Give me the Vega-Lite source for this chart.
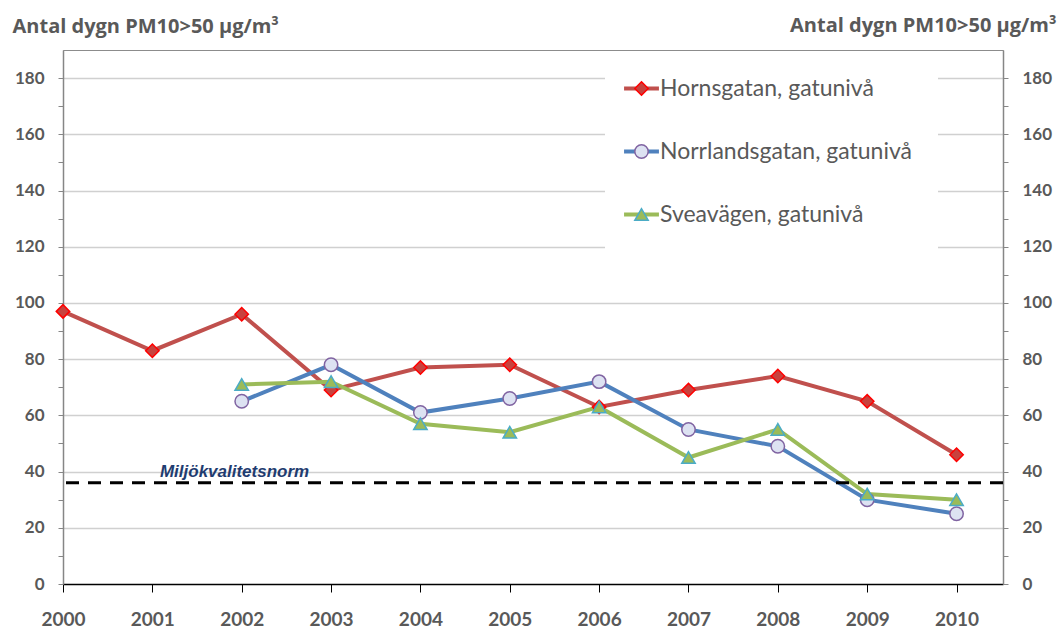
{
  "$schema": "https://vega.github.io/schema/vega-lite/v6.json",
  "width": 940,
  "height": 534,
  "autosize": {"type": "none"},
  "padding": {"left": 63, "top": 50, "right": 55, "bottom": 46},
  "config": {
    "view": {"stroke": "#8c8c8c", "strokeWidth": 1},
    "font": "Lato"
  },
  "datasets": {
    "series": [
      {"year": 2000, "value": 97, "series": "Hornsgatan, gatunivå"},
      {"year": 2001, "value": 83, "series": "Hornsgatan, gatunivå"},
      {"year": 2002, "value": 96, "series": "Hornsgatan, gatunivå"},
      {"year": 2003, "value": 69, "series": "Hornsgatan, gatunivå"},
      {"year": 2004, "value": 77, "series": "Hornsgatan, gatunivå"},
      {"year": 2005, "value": 78, "series": "Hornsgatan, gatunivå"},
      {"year": 2006, "value": 63, "series": "Hornsgatan, gatunivå"},
      {"year": 2007, "value": 69, "series": "Hornsgatan, gatunivå"},
      {"year": 2008, "value": 74, "series": "Hornsgatan, gatunivå"},
      {"year": 2009, "value": 65, "series": "Hornsgatan, gatunivå"},
      {"year": 2010, "value": 46, "series": "Hornsgatan, gatunivå"},
      {"year": 2002, "value": 65, "series": "Norrlandsgatan, gatunivå"},
      {"year": 2003, "value": 78, "series": "Norrlandsgatan, gatunivå"},
      {"year": 2004, "value": 61, "series": "Norrlandsgatan, gatunivå"},
      {"year": 2005, "value": 66, "series": "Norrlandsgatan, gatunivå"},
      {"year": 2006, "value": 72, "series": "Norrlandsgatan, gatunivå"},
      {"year": 2007, "value": 55, "series": "Norrlandsgatan, gatunivå"},
      {"year": 2008, "value": 49, "series": "Norrlandsgatan, gatunivå"},
      {"year": 2009, "value": 30, "series": "Norrlandsgatan, gatunivå"},
      {"year": 2010, "value": 25, "series": "Norrlandsgatan, gatunivå"},
      {"year": 2002, "value": 71, "series": "Sveavägen, gatunivå"},
      {"year": 2003, "value": 72, "series": "Sveavägen, gatunivå"},
      {"year": 2004, "value": 57, "series": "Sveavägen, gatunivå"},
      {"year": 2005, "value": 54, "series": "Sveavägen, gatunivå"},
      {"year": 2006, "value": 63, "series": "Sveavägen, gatunivå"},
      {"year": 2007, "value": 45, "series": "Sveavägen, gatunivå"},
      {"year": 2008, "value": 55, "series": "Sveavägen, gatunivå"},
      {"year": 2009, "value": 32, "series": "Sveavägen, gatunivå"},
      {"year": 2010, "value": 30, "series": "Sveavägen, gatunivå"}
    ],
    "norm": [{"value": 36}],
    "normlabel": [{"year": 2001.92, "value": 40, "text": "Miljökvalitetsnorm"}]
  },
  "resolve": {"axis": {"y": "independent"}},
  "layer": [
    {
      "data": {"name": "series"},
      "mark": {"type": "line", "strokeWidth": 4},
      "encoding": {
        "x": {
          "field": "year", "type": "quantitative",
          "scale": {"domain": [2000, 2010.52], "nice": false, "zero": false},
          "axis": {
            "values": [2000, 2001, 2002, 2003, 2004, 2005, 2006, 2007, 2008, 2009, 2010],
            "format": "d", "title": null, "grid": false,
            "domainColor": "#000000", "domainWidth": 1.5,
            "tickColor": "#000000", "tickSize": 8, "tickWidth": 1,
            "labelFont": "Lato", "labelFontWeight": "bold", "labelFontSize": 19,
            "labelColor": "#595959", "labelPadding": 18, "labelFlush": false
          }
        },
        "y": {
          "field": "value", "type": "quantitative",
          "scale": {"domain": [0, 190], "nice": false},
          "axis": {
            "orient": "left",
            "values": [0, 10, 20, 30, 40, 50, 60, 70, 80, 90, 100, 110, 120, 130, 140, 150, 160, 170, 180],
            "labelExpr": "datum.value % 20 === 0 ? datum.label : ''",
            "grid": true,
            "gridColor": {"condition": {"test": "datum.value % 20 === 0 && datum.value > 0", "value": "#d0d0d0"}, "value": "transparent"},
            "gridWidth": 1.5,
            "domainColor": "#868686", "domainWidth": 1.5,
            "tickColor": "#868686", "tickSize": 5,
            "labelFont": "Lato", "labelFontWeight": "bold", "labelFontSize": 17,
            "labelColor": "#595959", "labelPadding": 14,
            "title": "Antal dygn PM10>50 µg/m³",
            "titleAngle": 0, "titleAlign": "left", "titleBaseline": "alphabetic",
            "titleX": -51, "titleY": -18,
            "titleFont": "Open Sans", "titleFontWeight": "bold", "titleFontSize": 20, "titleColor": "#595959"
          }
        },
        "color": {
          "field": "series", "type": "nominal",
          "scale": {"range": ["#C0504D", "#4F81BD", "#9BBB59"]},
          "legend": {
            "orient": "none", "legendX": 542, "legendY": 2, "title": null,
            "padding": 25, "fillColor": "#ffffff", "zindex": 1,
            "symbolType": "M-2.6,0L2.6,0", "symbolSize": 180, "symbolStrokeWidth": 4,
            "labelFont": "Lato", "labelFontSize": 23, "labelColor": "#595959", "labelLimit": 500,
            "labelOffset": 7, "rowPadding": 39
          }
        }
      }
    },
    {
      "data": {"name": "series"},
      "mark": {"type": "point", "filled": true, "size": 180, "strokeWidth": 1.5, "opacity": 1},
      "encoding": {
        "x": {"field": "year", "type": "quantitative"},
        "y": {"field": "value", "type": "quantitative", "axis": null},
        "shape": {
          "field": "series", "type": "nominal",
          "scale": {"domain": ["Hornsgatan, gatunivå", "Norrlandsgatan, gatunivå", "Sveavägen, gatunivå"], "range": ["diamond", "circle", "triangle-up"]},
          "legend": {
            "orient": "none", "legendX": 542, "legendY": 2, "title": null,
            "padding": 25, "zindex": 2, "symbolSize": 180, "symbolStrokeWidth": 1.5,
            "labelFont": "Lato", "labelFontSize": 23, "labelOpacity": 0, "labelLimit": 500,
            "labelOffset": 7, "rowPadding": 39
          }
        },
        "fill": {
          "field": "series", "type": "nominal",
          "scale": {"domain": ["Hornsgatan, gatunivå", "Norrlandsgatan, gatunivå", "Sveavägen, gatunivå"], "range": ["#C8423E", "#DDE2F2", "#9BBB59"]},
          "legend": {
            "orient": "none", "legendX": 542, "legendY": 2, "title": null,
            "padding": 25, "zindex": 2, "symbolSize": 180, "symbolStrokeWidth": 1.5,
            "labelFont": "Lato", "labelFontSize": 23, "labelOpacity": 0, "labelLimit": 500,
            "labelOffset": 7, "rowPadding": 39
          }
        },
        "stroke": {
          "field": "series", "type": "nominal",
          "scale": {"domain": ["Hornsgatan, gatunivå", "Norrlandsgatan, gatunivå", "Sveavägen, gatunivå"], "range": ["#FF0000", "#8064A2", "#4BACC6"]},
          "legend": {
            "orient": "none", "legendX": 542, "legendY": 2, "title": null,
            "padding": 25, "zindex": 2, "symbolSize": 180, "symbolStrokeWidth": 1.5,
            "labelFont": "Lato", "labelFontSize": 23, "labelOpacity": 0, "labelLimit": 500,
            "labelOffset": 7, "rowPadding": 39
          }
        }
      }
    },
    {
      "data": {"name": "norm"},
      "mark": {"type": "rule", "color": "#000000", "strokeWidth": 3, "strokeDash": [13, 9]},
      "encoding": {
        "y": {
          "field": "value", "type": "quantitative",
          "axis": {
            "orient": "right",
            "values": [0, 10, 20, 30, 40, 50, 60, 70, 80, 90, 100, 110, 120, 130, 140, 150, 160, 170, 180],
            "labelExpr": "datum.value % 20 === 0 ? datum.label : ''",
            "grid": false,
            "domainColor": "#868686", "domainWidth": 1.5,
            "tickColor": "#868686", "tickSize": 5,
            "labelFont": "Lato", "labelFontWeight": "bold", "labelFontSize": 17,
            "labelColor": "#595959", "labelPadding": 14, "labelAlign": "left",
            "title": "Antal dygn PM10>50 µg/m³",
            "titleAngle": 0, "titleAlign": "right", "titleBaseline": "alphabetic",
            "titleX": 53, "titleY": -19,
            "titleFont": "Open Sans", "titleFontWeight": "bold", "titleFontSize": 20, "titleColor": "#595959"
          }
        }
      }
    },
    {
      "data": {"name": "normlabel"},
      "mark": {"type": "text", "font": "Liberation Sans", "fontStyle": "italic", "fontWeight": "bold", "fontSize": 17, "color": "#1F3C70", "align": "center", "baseline": "middle"},
      "encoding": {
        "x": {"field": "year", "type": "quantitative"},
        "y": {"field": "value", "type": "quantitative", "axis": null},
        "text": {"field": "text"}
      }
    }
  ]
}
